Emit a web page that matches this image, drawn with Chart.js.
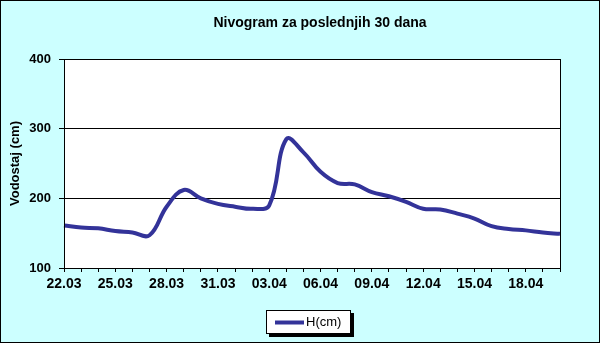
<!DOCTYPE html>
<html>
<head>
<meta charset="utf-8">
<script src="https://cdn.jsdelivr.net/npm/chart.js@4/dist/chart.umd.min.js"></script>
<style>
  html, body { margin: 0; padding: 0; background: #fff; }
  #wrap { width: 600px; height: 343px; }
</style>
</head>
<body>
<div id="wrap"><canvas id="nivogram"></canvas></div>
<script>
// dani (22.03 - 20.04)
const dani = ['22.03', '23.03', '24.03', '25.03', '26.03', '27.03', '28.03', '29.03', '30.03', '31.03',
    '01.04', '02.04', '03.04', '04.04', '05.04', '06.04', '07.04', '08.04', '09.04', '10.04',
    '11.04', '12.04', '13.04', '14.04', '15.04', '16.04', '17.04', '18.04', '19.04', '20.04'];
// vodostaj H(cm)
const vodostaj = [161, 158, 157, 153, 151, 147, 188, 212, 200, 192,
    188, 185, 190, 285, 266, 238, 222, 220, 209, 203,
    195, 185, 184, 178, 171, 160, 156, 154, 151, 149];
const yTicks = [100, 200, 300, 400];
const naslov = 'Nivogram za poslednjih 30 dana';

const FAM = 'Liberation Sans, Arial, sans-serif';

// pozadina, naslov, okvir i legenda u stilu Excela
const excelStil = {
    id: 'excelStil',
    beforeDraw(chart) {
        const { ctx, chartArea: a } = chart;
        ctx.save();
        ctx.fillStyle = '#CCFFFF';
        ctx.fillRect(0, 0, chart.width, chart.height);
        ctx.strokeStyle = '#000';
        ctx.lineWidth = 1;
        ctx.strokeRect(0.5, 0.5, chart.width - 1, chart.height - 1);
        ctx.fillStyle = '#fff';
        ctx.fillRect(a.left, a.top, a.right - a.left, a.bottom - a.top);

        ctx.fillStyle = '#000';
        ctx.font = 'bold 14px ' + FAM;
        ctx.textAlign = 'center';
        ctx.textBaseline = 'middle';
        ctx.fillText(naslov, 320, 23);
        ctx.restore();
    },
    afterDraw(chart) {
        const { ctx, chartArea: a } = chart;
        ctx.save();
        ctx.strokeStyle = '#000';
        ctx.lineWidth = 1;
        ctx.strokeRect(a.left + 0.5, a.top + 0.5, a.right - a.left, a.bottom - a.top);

        // legenda
        const ds = chart.data.datasets[0];
        const x = 266, y = 310, w = 84, h = 23;
        ctx.fillStyle = '#000';
        ctx.fillRect(x + 3, y + 3, w + 1, h + 1);
        ctx.fillStyle = '#fff';
        ctx.fillRect(x, y, w, h);
        ctx.strokeRect(x + 0.5, y + 0.5, w, h);
        ctx.strokeStyle = ds.borderColor;
        ctx.lineWidth = 4;
        ctx.beginPath();
        ctx.moveTo(275, y + 12.5);
        ctx.lineTo(304, y + 12.5);
        ctx.stroke();
        ctx.fillStyle = '#000';
        ctx.font = '13px ' + FAM;
        ctx.textBaseline = 'middle';
        ctx.fillText(ds.label, 306, y + 12.5);
        ctx.restore();
    }
};

new Chart(document.getElementById('nivogram'), {
    type: 'line',
    data: {
        labels: dani,
        datasets: [{
            label: 'H(cm)',
            data: vodostaj,
            borderColor: '#333399',
            borderWidth: 4,
            pointRadius: 0,
            tension: 0.4,
            fill: false,
        }],
    },
    options: {
        responsive: true,
        maintainAspectRatio: false,
        animation: false,
        layout: { padding: { left: 0, right: 40, top: 59, bottom: 0 } },
        plugins: {
            legend: { display: false },
            tooltip: { enabled: false },
            title: { display: false },
        },
        scales: {
            x: {
                offset: false,
                afterFit: (s) => { s.height = 75; },
                grid: { drawOnChartArea: false, color: '#000', tickLength: 4 },
                border: { color: '#000' },
                ticks: {
                    autoSkip: false,
                    maxRotation: 0,
                    color: '#000',
                    font: { family: FAM, size: 14, weight: 'bold' },
                    padding: 4,
                    callback: (v, i) => (i % 3 === 0 ? dani[i] : ''),
                },
            },
            y: {
                min: 100,
                max: 400,
                afterFit: (s) => { s.width = 64; },
                afterBuildTicks: (s) => { s.ticks = yTicks.map((v) => ({ value: v })); },
                grid: { color: '#000', tickLength: 5 },
                border: { color: '#000' },
                ticks: { color: '#000', font: { family: FAM, size: 13, weight: 'bold' }, padding: 8 },
                title: {
                    display: true,
                    text: 'Vodostaj (cm)',
                    color: '#000',
                    font: { family: FAM, size: 13, weight: 'bold' },
                    padding: { top: 7.5, bottom: 0 },
                },
            },
        },
    },
    plugins: [excelStil],
});
</script>
</body>
</html>
